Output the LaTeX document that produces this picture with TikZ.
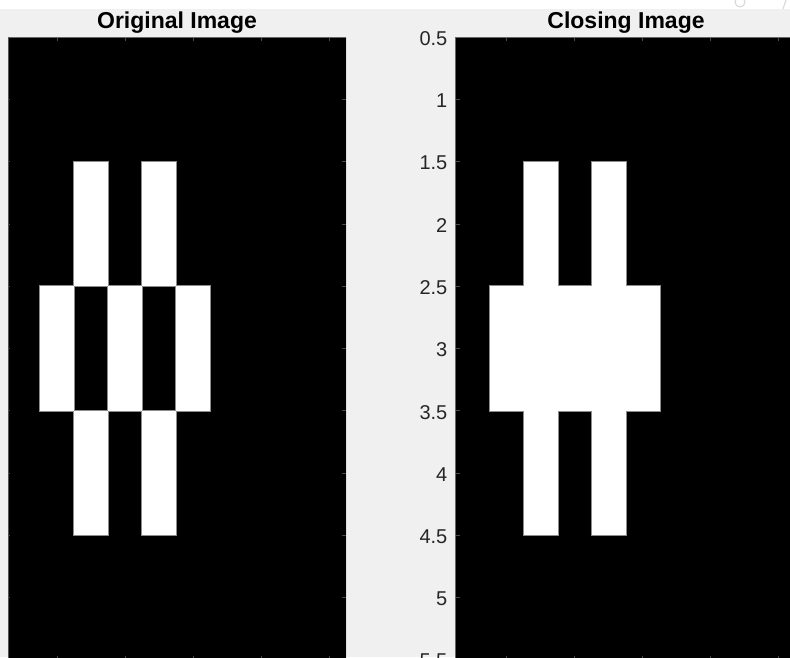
\documentclass[tikz,border=0pt]{standalone}
\usepackage{fontspec}
\setmainfont{Liberation Sans}
\definecolor{figBg}   {HTML}{F0F0F0}
\definecolor{axInk}   {HTML}{262626}
\definecolor{tickInk} {HTML}{4A4A4A}
\definecolor{pixEdge} {HTML}{8C8C8C}
\definecolor{iconInk} {HTML}{D6D6D6}

\begin{document}
\begin{tikzpicture}[x=1pt,y=-1pt,
    pixedge/.style={draw=pixEdge,line width=1.6pt},
    pixfill/.style={fill=white},
    tickmark/.style={draw=tickInk,line width=0.8pt},
    axisline/.style={draw=axInk!70,line width=0.8pt},
    title/.style={font=\fontsize{23}{26}\selectfont\bfseries,anchor=base,inner sep=0},
    ticklab/.style={font=\fontsize{20}{23}\selectfont,text=axInk,anchor=east,inner sep=0}]
    \clip (0,0) rectangle (790,657);
    \fill[figBg] (0,0) rectangle (790,657);
    \fill[white] (0,0) rectangle (790,9);
    \draw[iconInk,line width=1pt] (740,2) circle (5);
    \draw[iconInk,line width=1pt] (783,9) -- (786,0);
    % original image
    \begin{scope}[shift={(-11pt,25.05pt)},x=34pt,y=-124.5pt]
      \clip (0.568,0.5) rectangle (10.5,5.6);
      \fill[black] (0.5,0.5) rectangle (10.5,5.6);
      \foreach \c/\r in {3/2,5/2,2/3,4/3,6/3,3/4,5/4}
        \draw[pixedge] (\c-0.5,\r-0.5) rectangle ++(1,1);
      \foreach \c/\r in {3/2,5/2,2/3,4/3,6/3,3/4,5/4}
        \fill[pixfill] (\c-0.5,\r-0.5) rectangle ++(1,1);
      \foreach \y in {0.5,1,1.5,2,2.5,3,3.5,4,4.5,5,5.5} {
        \draw[tickmark] (0.5,\y) -- ++(4pt,0);
        \draw[tickmark] (10.5,\y) -- ++(-4pt,0);
      }
      \foreach \x in {2,4,6,8,10} {
        \draw[tickmark] (\x,0.5) -- ++(0,-4pt);
        \draw[tickmark] (\x,5.5) -- ++(0,4pt);
      }
      \draw[axisline] (0.5,0.5) rectangle (10.5,5.5);
    \end{scope}
    % closing image
    \begin{scope}[shift={(438.8pt,25.05pt)},x=34pt,y=-124.5pt]
      \fill[black] (0.5,0.5) rectangle (10.5,5.6);
      \foreach \c/\r in {3/2,5/2,2/3,3/3,4/3,5/3,6/3,3/4,5/4}
        \draw[pixedge] (\c-0.5,\r-0.5) rectangle ++(1,1);
      \foreach \c/\r in {3/2,5/2,2/3,3/3,4/3,5/3,6/3,3/4,5/4}
        \fill[pixfill] (\c-0.5,\r-0.5) rectangle ++(1,1);
      \foreach \y in {0.5,1,1.5,2,2.5,3,3.5,4,4.5,5,5.5} {
        \draw[tickmark] (0.5,\y) -- ++(4pt,0);
        \draw[tickmark] (10.5,\y) -- ++(-4pt,0);
      }
      \foreach \x in {2,4,6,8,10} {
        \draw[tickmark] (\x,0.5) -- ++(0,-4pt);
        \draw[tickmark] (\x,5.5) -- ++(0,4pt);
      }
      \draw[axisline] (0.5,0.5) rectangle (10.5,5.5);
    \end{scope}
    \node[title] (origTitle) at (177,28) {Original Image};
    \node[title] (closeTitle) at (626,28) {Closing Image};
    \foreach \v [count=\i] in {0.5,1,1.5,2,2.5,3,3.5,4,4.5,5,5.5}
      \node[ticklab] (ylab\i) at (447.5,{38.7+(\v-0.5)*124.5}) {\v};
  \end{tikzpicture}
\end{document}
